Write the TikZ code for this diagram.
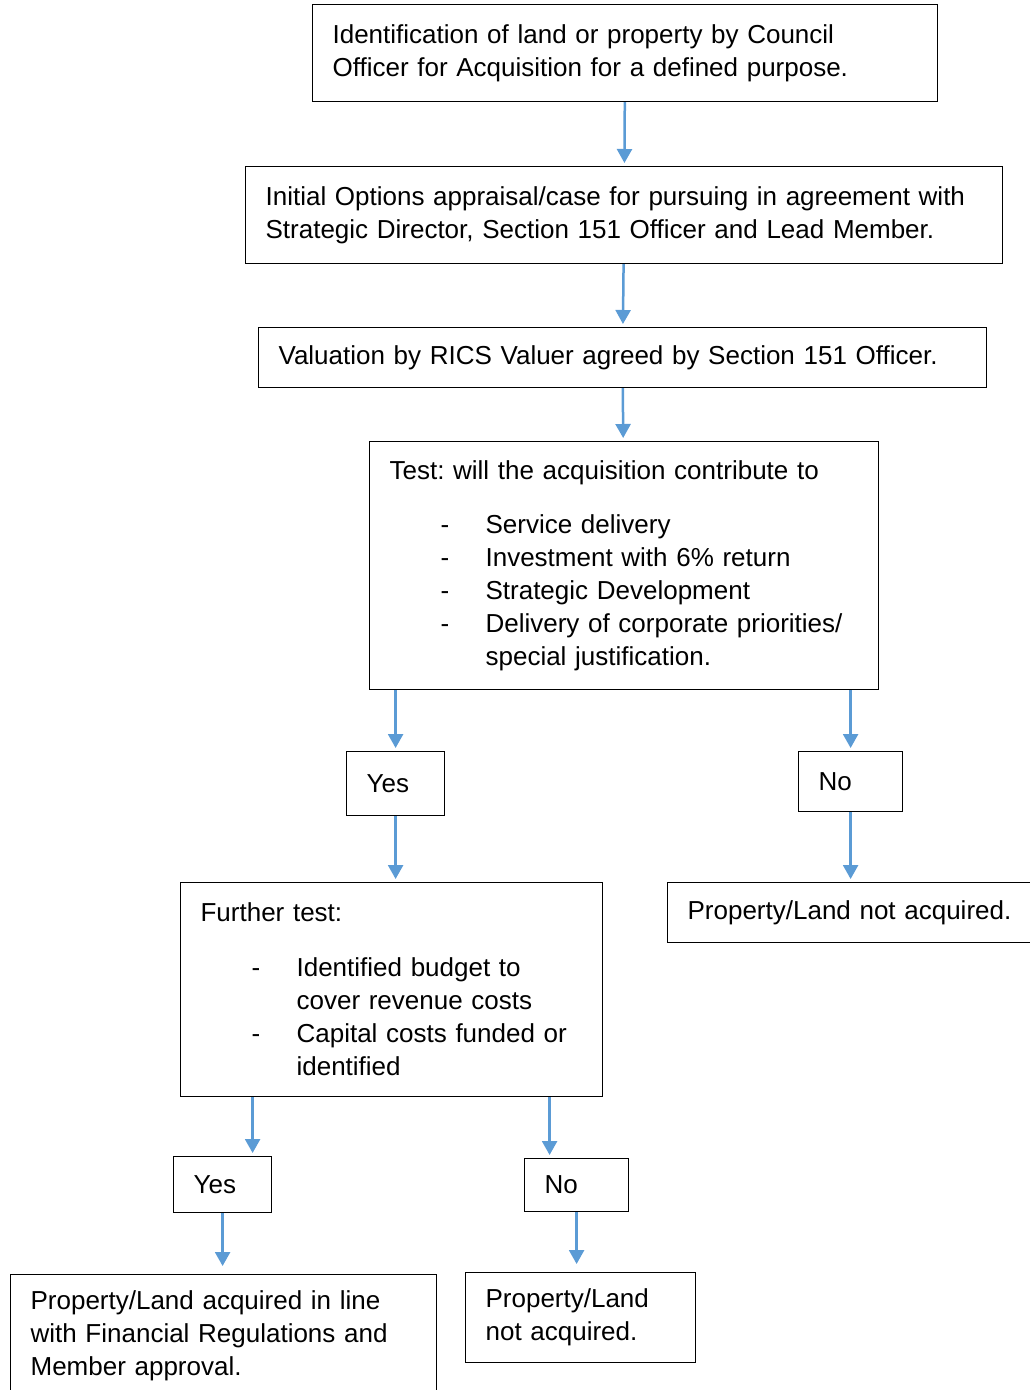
\documentclass[tikz,border=0pt]{standalone}
\usepackage{fontspec}
\setmainfont{Liberation Sans}
\usetikzlibrary{arrows.meta}
\definecolor{arrowblue}{RGB}{91,155,213}
\frenchspacing

\begin{document}
\begin{tikzpicture}[x=1pt,y=-1pt,
    box/.style={draw,line width=1.2pt,anchor=north west,align=left,inner xsep=20pt,inner ysep=0pt,font=\fontsize{26}{33}\selectfont},
    arr/.style={draw=arrowblue,line width=2.5pt,-{Triangle[length=14pt,width=15pt]},shorten >=3pt}]
       \useasboundingbox (0,0) rectangle (1029,1390);
       \node[box,text width=585pt,minimum height=97pt] (ident) at (312,4) {Identification of land or property by Council\\Officer for Acquisition for a defined purpose.};
       \node[box,text width=717pt,minimum height=97pt] (options) at (245,166) {Initial Options appraisal/case for pursuing in agreement with\\Strategic Director, Section 151 Officer and Lead Member.};
       \node[box,text width=688pt,minimum height=60pt] (valuation) at (258,327) {Valuation by RICS Valuer agreed by Section 151 Officer.};
       \node[box,text width=469pt,minimum height=248pt] (test) at (369,441) {Test: will the acquisition contribute to\\[21pt]
           \hspace*{51pt}\makebox[45pt][l]{-}Service delivery\\
           \hspace*{51pt}\makebox[45pt][l]{-}Investment with 6\% return\\
           \hspace*{51pt}\makebox[45pt][l]{-}Strategic Development\\
           \hspace*{51pt}\makebox[45pt][l]{-}Delivery of corporate priorities/\\
           \hspace*{96pt}special justification.};
       \node[box,text width=58pt,minimum height=64pt] (yes1) at (346,751) {Yes};
       \node[box,text width=64pt,minimum height=60pt] (no1) at (798,751) {No};
       \node[box,text width=360pt,minimum height=60pt] (notacq1) at (667,882) {Property/Land not acquired.};
       \node[box,text width=382pt,minimum height=214pt] (further) at (180,882) {Further test:\\[22pt]
           \hspace*{51pt}\makebox[45pt][l]{-}Identified budget to\\
           \hspace*{96pt}cover revenue costs\\
           \hspace*{51pt}\makebox[45pt][l]{-}Capital costs funded or\\
           \hspace*{96pt}identified};
       \node[box,text width=58pt,minimum height=56pt] (yes2) at (173,1156) {Yes};
       \node[box,text width=64pt,minimum height=53pt] (no2) at (524,1158) {No};
       \node[box,text width=386pt,minimum height=122pt] (acq) at (10,1274) {Property/Land acquired in line\\with Financial Regulations and\\Member approval.};
       \node[box,text width=190pt,minimum height=90pt] (notacq2) at (465,1272) {Property/Land\\not acquired.};

       \draw[arr] (ident) -- (options);
       \draw[arr] (options) -- (valuation);
       \draw[arr] (valuation) -- (test);
       \draw[arr] (test.south -| yes1) -- (yes1);
       \draw[arr] (test.south -| no1) -- (no1);
       \draw[arr] (yes1) -- (yes1 |- further.north);
       \draw[arr] (no1) -- (no1 |- notacq1.north);
       \draw[arr] ([xshift=30pt]yes2.north |- further.south) -- ([xshift=30pt]yes2.north);
       \draw[arr] ([xshift=-27pt]no2.north |- further.south) -- ([xshift=-27pt]no2.north);
       \draw[arr,shorten >=8pt] (yes2) -- (yes2 |- acq.north);
       \draw[arr,shorten >=8pt] (no2) -- (no2 |- notacq2.north);
\end{tikzpicture}
\end{document}
